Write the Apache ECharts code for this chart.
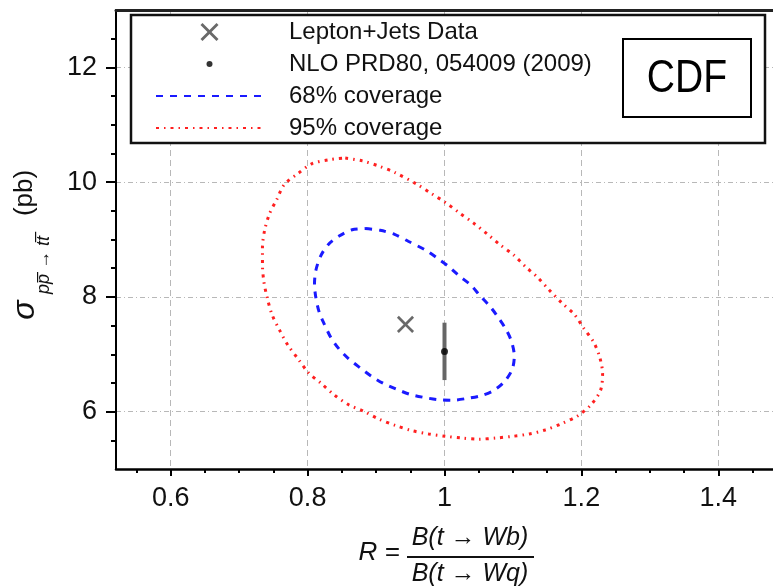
<!DOCTYPE html>
<html>
<head>
<meta charset="utf-8">
<script src="https://cdn.jsdelivr.net/npm/echarts@6/dist/echarts.min.js"></script>
<style>
html,body{margin:0;padding:0;background:#fff;}
#chart{width:773px;height:586px;}
</style>
</head>
<body>
<div id="chart"></div>
<script>
// ---- data ----
const xTicks = [0.6, 0.8, 1, 1.2, 1.4];
const xMinorTicks = [0.55, 0.65, 0.7, 0.75, 0.85, 0.9, 0.95, 1.05, 1.1, 1.15, 1.25, 1.3, 1.35, 1.45];
const yTicks = [6, 8, 10, 12];
const yMinorTicks = [5.5, 6.5, 7, 7.5, 8.5, 9, 9.5, 10.5, 11, 11.5, 12.5];

const seriesNames = ['Lepton+Jets Data', 'NLO PRD80, 054009 (2009)', '68% coverage', '95% coverage'];

const dataPointX = [0.943];
const dataPointY = [7.52];

const nloX = [1.0];
const nloY = [7.05];
const nloErrLow = [6.55];
const nloErrHigh = [7.55];

const c68X = [0.884,0.906,0.927,0.947,0.973,0.990,1.006,1.021,1.038,1.052,1.066,1.078,1.090,1.098,1.102,1.099,1.088,1.072,1.054,1.033,1.012,0.990,0.969,0.950,0.930,0.911,0.894,0.877,0.860,0.846,0.834,0.825,0.817,0.812,0.810,0.812,0.819,0.830,0.846,0.865,0.884];
const c68Y = [9.19,9.16,9.09,8.97,8.81,8.67,8.53,8.37,8.21,8.02,7.84,7.65,7.43,7.22,6.97,6.74,6.53,6.37,6.28,6.23,6.20,6.21,6.25,6.30,6.39,6.49,6.61,6.76,6.92,7.09,7.29,7.51,7.73,7.99,8.22,8.46,8.71,8.91,9.06,9.17,9.19];

const c95X = [0.855,0.880,0.904,0.927,0.960,0.981,1.002,1.021,1.042,1.062,1.081,1.101,1.119,1.136,1.153,1.171,1.190,1.203,1.218,1.227,1.231,1.228,1.214,1.195,1.171,1.147,1.124,1.100,1.075,1.050,1.025,1.001,0.977,0.952,0.928,0.904,0.883,0.860,0.839,0.820,0.801,0.786,0.771,0.759,0.748,0.741,0.736,0.734,0.734,0.737,0.744,0.755,0.766,0.786,0.806,0.831,0.855];
const c95Y = [10.42,10.37,10.28,10.17,9.96,9.80,9.64,9.47,9.29,9.10,8.91,8.73,8.52,8.34,8.12,7.90,7.69,7.46,7.21,6.94,6.66,6.37,6.12,5.93,5.79,5.68,5.61,5.57,5.54,5.52,5.54,5.57,5.61,5.67,5.76,5.87,6.00,6.12,6.29,6.49,6.68,6.92,7.16,7.42,7.69,7.98,8.27,8.56,8.86,9.15,9.44,9.70,9.96,10.15,10.32,10.39,10.42];

// ---- build ----
const zip = (xs, ys) => xs.map((x, i) => [x, ys[i]]);
const FONT = 'Liberation Sans, Arial, sans-serif';
const X_SYMBOL = 'path://M0,0M100,100M15,5L50,40L85,5L95,15L60,50L95,85L85,95L50,60L15,95L5,85L40,50L5,15Z';
const DOT_ICON = 'path://M0,0M100,100M35,50A15,15,0,1,0,65,50A15,15,0,1,0,35,50Z';

const chart = echarts.init(document.getElementById('chart'), null, {renderer: 'canvas'});

const xMin = 0.52, xMax = 1.48, yMin = 5, yMax = 13;

const option = {
  animation: false,
  backgroundColor: '#fff',
  grid: {left: 116, right: 0, top: 10, bottom: 117, containLabel: false},
  xAxis: [
    {
      type: 'value', min: xMin, max: xMax, position: 'bottom',
      axisLine: {show: true, onZero: false, lineStyle: {color: '#000', width: 2.5}},
      axisTick: {show: true, customValues: xTicks, length: 7, lineStyle: {color: '#000', width: 2}},
      axisLabel: {show: true, customValues: xTicks, margin: 16, fontSize: 27, fontFamily: FONT, color: '#111',
        formatter: v => String(v)},
      splitLine: {show: true, lineStyle: {color: '#b8b8b8', width: 1, type: [6, 4]}}
    },
    {
      type: 'value', min: xMin, max: xMax, position: 'bottom',
      axisLine: {show: false},
      axisTick: {show: true, customValues: xMinorTicks, length: 4, lineStyle: {color: '#000', width: 2}},
      axisLabel: {show: false},
      splitLine: {show: false}
    },
    {
      type: 'value', min: xMin, max: xMax, position: 'top',
      axisLine: {show: true, onZero: false, lineStyle: {color: '#222', width: 3}},
      axisTick: {show: false}, axisLabel: {show: false}, splitLine: {show: false}
    }
  ],
  yAxis: [
    {
      type: 'value', min: yMin, max: yMax, position: 'left',
      axisLine: {show: true, onZero: false, lineStyle: {color: '#000', width: 2}},
      axisTick: {show: true, customValues: yTicks, length: 10, lineStyle: {color: '#000', width: 2}},
      axisLabel: {show: true, customValues: yTicks, margin: 19, fontSize: 27, fontFamily: FONT, color: '#111'},
      splitLine: {show: true, lineStyle: {color: '#b8b8b8', width: 1, type: [5, 3, 1, 3]}}
    },
    {
      type: 'value', min: yMin, max: yMax, position: 'left',
      axisLine: {show: false},
      axisTick: {show: true, customValues: yMinorTicks, length: 5, lineStyle: {color: '#000', width: 2}},
      axisLabel: {show: false},
      splitLine: {show: false}
    }
  ],
  legend: {
    orient: 'vertical', left: 155, top: 20, padding: 0,
    itemWidth: 107, itemHeight: 20, itemGap: 8,
    selectedMode: false, symbolKeepAspect: true, z: 6,
    data: [
      {name: seriesNames[0], icon: X_SYMBOL},
      {name: seriesNames[1], icon: DOT_ICON},
      {name: seriesNames[2], itemStyle: {opacity: 0}},
      {name: seriesNames[3], itemStyle: {opacity: 0}}
    ],
    textStyle: {fontSize: 24, fontFamily: FONT, color: '#111', padding: [0, 0, 0, 21]}
  },
  graphic: [
    {type: 'rect', z: 5, shape: {x: 131, y: 15, width: 634, height: 128},
      style: {fill: '#fff', stroke: '#111', lineWidth: 2.5}},
    {type: 'rect', z: 7, shape: {x: 623, y: 39, width: 128, height: 78},
      style: {fill: '#fff', stroke: '#000', lineWidth: 2}},
    {type: 'text', z: 8, x: 687, y: 79, scaleX: 0.85, originX: 0, originY: 0,
      style: {text: 'CDF', font: '46px ' + FONT, fill: '#000', align: 'center', verticalAlign: 'middle'}},
    // y axis title
    {type: 'text', z: 8, x: 25, y: 310, rotation: Math.PI / 2,
      style: {text: 'σ', font: 'italic 32px ' + FONT, fill: '#111', align: 'center', verticalAlign: 'middle'}},
    {type: 'text', z: 8, x: 44, y: 265, rotation: Math.PI / 2,
      style: {text: 'pp\u0305 \u2192 tt\u0305', font: 'italic 18px ' + FONT, fill: '#111', align: 'center', verticalAlign: 'middle'}},
    {type: 'text', z: 8, x: 25, y: 193, rotation: Math.PI / 2,
      style: {text: '(pb)', font: '26px ' + FONT, fill: '#111', align: 'center', verticalAlign: 'middle'}},
    // x axis title
    {type: 'text', z: 8, x: 379, y: 553,
      style: {text: 'R =', font: 'italic 26px ' + FONT, fill: '#111', align: 'center', verticalAlign: 'middle'}},
    {type: 'text', z: 8, x: 470, y: 538,
      style: {text: 'B(t \u2192 Wb)', font: 'italic 25px ' + FONT, fill: '#111', align: 'center', verticalAlign: 'middle'}},
    {type: 'rect', z: 8, shape: {x: 407, y: 556, width: 127, height: 2}, style: {fill: '#111'}},
    {type: 'text', z: 8, x: 470, y: 574,
      style: {text: 'B(t \u2192 Wq)', font: 'italic 25px ' + FONT, fill: '#111', align: 'center', verticalAlign: 'middle'}}
  ],
  series: [
    {
      name: seriesNames[0], type: 'scatter', xAxisIndex: 0, yAxisIndex: 0,
      data: zip(dataPointX, dataPointY), symbol: X_SYMBOL, symbolSize: 19,
      itemStyle: {color: '#444'}, z: 4
    },
    {
      name: 'nloErr', type: 'line', xAxisIndex: 0, yAxisIndex: 0,
      data: [[nloX[0], nloErrLow[0]], [nloX[0], nloErrHigh[0]]],
      symbol: 'none', lineStyle: {color: '#666', width: 4}, z: 3
    },
    {
      name: seriesNames[1], type: 'scatter', xAxisIndex: 0, yAxisIndex: 0,
      data: zip(nloX, nloY), symbol: 'circle', symbolSize: 7,
      itemStyle: {color: '#000'}, z: 4
    },
    {
      name: seriesNames[2], type: 'line', xAxisIndex: 0, yAxisIndex: 0,
      data: zip(c68X, c68Y), symbol: 'none', smooth: 0.3,
      lineStyle: {color: '#1a1aff', width: 3, type: [7, 7]},
      itemStyle: {color: '#1a1aff'}, z: 2
    },
    {
      name: seriesNames[3], type: 'line', xAxisIndex: 0, yAxisIndex: 0,
      data: zip(c95X, c95Y), symbol: 'none', smooth: 0.3,
      lineStyle: {color: '#ff2020', width: 3, type: [3, 5, 1.5, 5]},
      itemStyle: {color: '#ff2020'}, z: 2
    }
  ]
};
chart.setOption(option);
</script>
</body>
</html>
